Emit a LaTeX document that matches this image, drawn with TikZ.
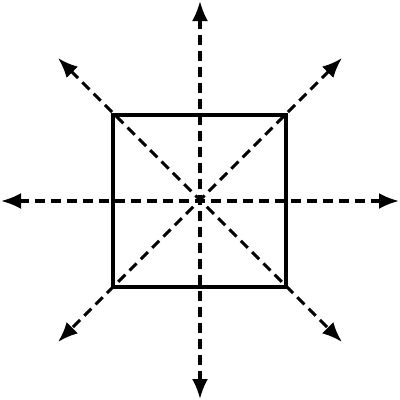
\documentclass[tikz,border=0pt]{standalone}
\usetikzlibrary{arrows.meta}
\begin{document}
\begin{tikzpicture}[x=1pt,y=-1pt,
  sq/.style={line width=3.1pt},
  tip/.tip={Latex[length=20pt,width=16pt]},
  ray/.style={line width=3.1pt,dash pattern=on 10pt off 6pt,arrows={tip-tip}}]
\useasboundingbox (0,0) rectangle (400,400);
\coordinate (c) at (200,201);
\coordinate (t) at (200,1);
\coordinate (b) at (200,399);
\coordinate (l) at (1,201);
\coordinate (r) at (399,201);
\coordinate (ul) at (58,58);
\coordinate (lr) at (342,342);
\coordinate (ur) at (342,58);
\coordinate (ll) at (58,342);
\draw[sq] (113,115) rectangle (286,287);
\draw[ray] (t) -- (b);
\draw[ray] (l) -- (r);
\draw[ray] (ul) -- (lr);
\draw[ray] (ur) -- (ll);
\end{tikzpicture}
\end{document}
